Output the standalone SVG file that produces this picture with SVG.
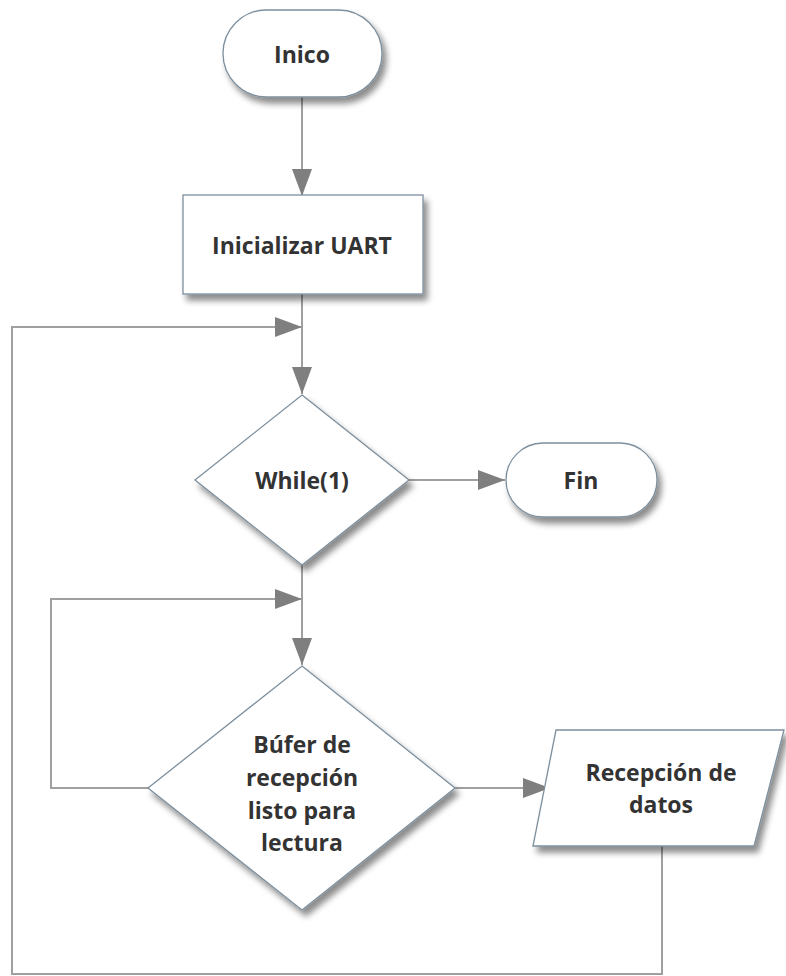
<svg xmlns="http://www.w3.org/2000/svg" width="786" height="976" viewBox="0 0 786 976">
<defs>
<filter id="sh" x="-20%" y="-20%" width="150%" height="160%">
<feDropShadow dx="4" dy="6" stdDeviation="3" flood-color="#000" flood-opacity="0.45"/>
</filter>
<marker id="ah" markerUnits="userSpaceOnUse" markerWidth="27" markerHeight="20" refX="27" refY="10" orient="auto">
<path d="M0,0 L27,10 L0,20 z" fill="#7f7f7f"/>
</marker>
</defs>
<style>
.node{fill:#fff;stroke:#7d8f9d;stroke-width:1.3;filter:url(#sh)}
.edge{fill:none;stroke:#a0a0a0;stroke-width:2}
.lbl{font-family:"Open Sans","DejaVu Sans",sans-serif;font-weight:bold;font-size:23px;fill:#333;text-anchor:middle}
</style>
<g id="connectors">
<path class="edge" d="M302,97 L302,196" marker-end="url(#ah)"/>
<path class="edge" d="M302,294 L302,394" marker-end="url(#ah)"/>
<path class="edge" d="M409,480 L505,480" marker-end="url(#ah)"/>
<path class="edge" d="M302,565 L302,665" marker-end="url(#ah)"/>
<path class="edge" d="M148,788 L51,788 L51,599 L302,599" marker-end="url(#ah)"/>
<path class="edge" d="M455,788 L550,788" marker-end="url(#ah)"/>
<path class="edge" d="M662,846 L662,974 L12,974 L12,327 L302,327" marker-end="url(#ah)"/>
</g>
<g id="inico">
<rect class="node" x="223" y="10" width="159" height="87" rx="43.5" ry="43.5"/>
<text class="lbl" x="302" y="63">Inico</text>
</g>
<g id="inicializar">
<rect class="node" x="183" y="195" width="240" height="99"/>
<text class="lbl" x="302" y="254">Inicializar UART</text>
</g>
<g id="while">
<polygon class="node" points="302,395 409,480 302,565 195,480"/>
<text class="lbl" x="302" y="489">While(1)</text>
</g>
<g id="fin">
<rect class="node" x="506" y="443" width="151" height="74" rx="37" ry="37"/>
<text class="lbl" x="581" y="489">Fin</text>
</g>
<g id="bufer">
<polygon class="node" points="302,666 455,788 302,910 148,788"/>
<text class="lbl" x="302" y="753">Búfer de</text>
<text class="lbl" x="302" y="786">recepción</text>
<text class="lbl" x="302" y="819">listo para</text>
<text class="lbl" x="302" y="851">lectura</text>
</g>
<g id="recepcion">
<polygon class="node" points="556,730 784,730 754,846 533,846"/>
<text class="lbl" x="661" y="781">Recepción de</text>
<text class="lbl" x="661" y="813">datos</text>
</g>
</svg>
